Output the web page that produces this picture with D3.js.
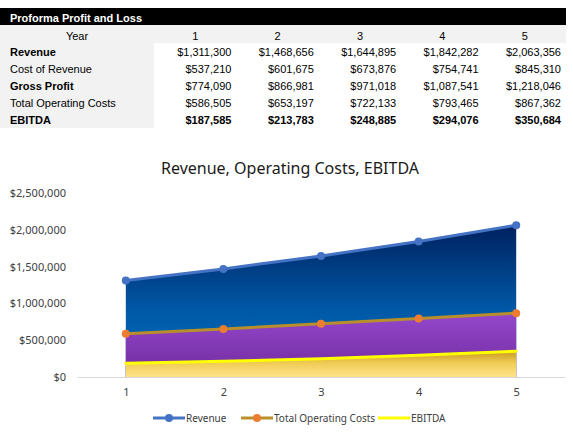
<!DOCTYPE html>
<html>
<head>
<meta charset="utf-8">
<script src="https://cdn.jsdelivr.net/npm/d3@7"></script>
<style>
  body { margin: 0; background: #fff; }
  svg { display: block; }
</style>
</head>
<body>
<div id="chart"></div>
<script>
const years = [1, 2, 3, 4, 5];
const revenue = [1311300, 1468656, 1644895, 1842282, 2063356];
const costOfRevenue = [537210, 601675, 673876, 754741, 845310];
const grossProfit = [774090, 866981, 971018, 1087541, 1218046];
const totalOpCosts = [586505, 653197, 722133, 793465, 867362];
const ebitda = [187585, 213783, 248885, 294076, 350684];
const yTicks = [0, 500000, 1000000, 1500000, 2000000, 2500000];

const width = 573, height = 439;
const money = d => '$' + d3.format(',')(d);

const svg = d3.select('#chart').append('svg')
    .attr('width', width)
    .attr('height', height)
    .attr('viewBox', `0 0 ${width} ${height}`);

// ---- table ----
const tableRows = [
  {label: 'Revenue', values: revenue, boldLabel: true, boldValues: false},
  {label: 'Cost of Revenue', values: costOfRevenue, boldLabel: false, boldValues: false},
  {label: 'Gross Profit', values: grossProfit, boldLabel: true, boldValues: false},
  {label: 'Total Operating Costs', values: totalOpCosts, boldLabel: false, boldValues: false},
  {label: 'EBITDA', values: ebitda, boldLabel: true, boldValues: true},
];

const col = d3.scaleBand().domain(years).range([154, 566]);
const rowY = d3.scaleBand().domain(d3.range(tableRows.length)).range([43, 129]);

const table = svg.append('g')
    .attr('font-family', '"Liberation Sans", Arial, sans-serif')
    .attr('font-size', 11)
    .attr('fill', '#000');

table.append('rect').attr('x', 0).attr('y', 8).attr('width', 566).attr('height', 17).attr('fill', '#000');
table.append('text').attr('x', 10).attr('y', 22).attr('fill', '#fff').attr('font-weight', 'bold')
    .text('Proforma Profit and Loss');

table.append('rect').attr('x', 0).attr('y', 25).attr('width', 566).attr('height', 18).attr('fill', '#f2f2f2');
table.append('rect').attr('x', 0).attr('y', 43).attr('width', 154).attr('height', 85).attr('fill', '#f2f2f2');

table.append('text').attr('x', 77).attr('y', 40).attr('text-anchor', 'middle').text('Year');
table.selectAll('text.year').data(years).join('text')
    .attr('class', 'year')
    .attr('x', d => col(d) + col.bandwidth() / 2)
    .attr('y', 40)
    .attr('text-anchor', 'middle')
    .text(d => d);

const row = table.selectAll('g.row').data(tableRows).join('g')
    .attr('class', 'row')
    .attr('transform', (d, i) => `translate(0,${rowY(i) + rowY.bandwidth() / 2 + 4})`);

row.append('text')
    .attr('x', 10)
    .attr('font-weight', d => d.boldLabel ? 'bold' : null)
    .text(d => d.label);

row.selectAll('text.val').data(d => d.values.map((v, i) => ({v, year: years[i], bold: d.boldValues})))
  .join('text')
    .attr('class', 'val')
    .attr('x', d => col(d.year) + col.bandwidth() - 5)
    .attr('text-anchor', 'end')
    .attr('font-weight', d => d.bold ? 'bold' : null)
    .text(d => money(d.v));

// ---- chart ----
const x = d3.scalePoint().domain(years).range([77, 565]).padding(0.5);
const y = d3.scaleLinear().domain([0, 2500000]).range([377, 193]);

const chart = svg.append('g').attr('font-family', '"Noto Sans", "Open Sans", sans-serif');

chart.append('text')
    .attr('x', 290).attr('y', 174)
    .attr('text-anchor', 'middle')
    .attr('font-size', 16)
    .attr('fill', '#1a1a1a')
    .text('Revenue, Operating Costs, EBITDA');

const defs = svg.append('defs');
const grad = (id, top, stops) => {
  const g = defs.append('linearGradient').attr('id', id)
      .attr('gradientUnits', 'userSpaceOnUse')
      .attr('x1', 0).attr('x2', 0).attr('y1', y(top)).attr('y2', y(0));
  g.selectAll('stop').data(stops).join('stop')
      .attr('offset', d => d[0]).attr('stop-color', d => d[1]);
};
grad('gRev', d3.max(revenue), [[0, '#00215f'], [0.55, '#0058a6'], [1, '#0070c0']]);
grad('gOp', d3.max(totalOpCosts), [[0, '#9447cc'], [0.6, '#7f36b0'], [1, '#6e2c9c']]);
grad('gEb', d3.max(ebitda), [[0, '#c89a1e'], [0.45, '#f0cc55'], [1, '#ffe38a']]);

const series = [
  {name: 'Revenue', values: revenue, fill: 'url(#gRev)', stroke: '#4472c4', marker: '#4472c4'},
  {name: 'Total Operating Costs', values: totalOpCosts, fill: 'url(#gOp)', stroke: '#b88f2a', marker: '#ed7d31'},
  {name: 'EBITDA', values: ebitda, fill: 'url(#gEb)', stroke: '#ffff00', marker: null},
];

const area = d3.area()
    .x((d, i) => x(years[i]))
    .y0(y(0))
    .y1(d => y(d));
const line = d3.line()
    .x((d, i) => x(years[i]))
    .y(d => y(d));

// y axis
chart.append('g')
    .attr('transform', 'translate(68,0)')
    .call(d3.axisLeft(y).tickValues(yTicks).tickSize(0).tickPadding(2).tickFormat(money))
    .call(g => g.select('.domain').remove())
    .call(g => g.selectAll('text').attr('fill', '#404040').attr('font-size', 11)
        .attr('font-family', '"Noto Sans", "Open Sans", sans-serif'));

// areas
chart.append('g').selectAll('path')
  .data(series).join('path')
    .attr('fill', d => d.fill)
    .attr('d', d => area(d.values));

// x axis
chart.append('g')
    .attr('transform', `translate(0,${y(0)})`)
    .call(d3.axisBottom(x).tickSize(0).tickPadding(11))
    .call(g => g.select('.domain').attr('stroke', '#d9d9d9'))
    .call(g => g.selectAll('text').attr('fill', '#404040').attr('font-size', 11)
        .attr('font-family', '"Noto Sans", "Open Sans", sans-serif'));

// lines + markers
const sg = chart.append('g').selectAll('g').data(series).join('g');
sg.append('path')
    .attr('fill', 'none')
    .attr('stroke', d => d.stroke)
    .attr('stroke-width', 3)
    .attr('stroke-linejoin', 'round')
    .attr('stroke-linecap', 'round')
    .attr('d', d => line(d.values));
sg.filter(d => d.marker).selectAll('circle')
  .data(d => d.values.map((v, i) => ({v, year: years[i], c: d.marker})))
  .join('circle')
    .attr('cx', d => x(d.year))
    .attr('cy', d => y(d.v))
    .attr('r', 4)
    .attr('fill', d => d.c);

// legend
const legendX = [153, 241, 378];
const lg = chart.append('g').selectAll('g').data(series).join('g')
    .attr('transform', (d, i) => `translate(${legendX[i]},418)`);
lg.append('line').attr('x1', 0).attr('x2', 32)
    .attr('stroke', d => d.stroke).attr('stroke-width', 3);
lg.filter(d => d.marker).append('circle')
    .attr('cx', 16).attr('r', 4).attr('fill', d => d.marker);
lg.append('text')
    .attr('x', 33).attr('dy', '0.35em')
    .attr('font-size', 10)
    .attr('fill', '#404040')
    .text(d => d.name);
</script>
</body>
</html>
